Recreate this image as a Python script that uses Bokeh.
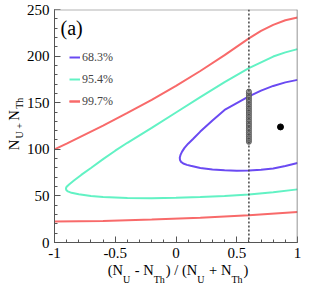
import math
from bokeh.plotting import figure
from bokeh.models import (Range1d, SingleIntervalTicker, FixedTicker, LinearAxis, Label, Span,
                          Legend, LegendItem)
from bokeh.embed import file_html
from bokeh.resources import INLINE

# ---------------- data ----------------
blue_x = [1.0, 0.9, 0.8, 0.7, 0.6, 0.5, 0.4, 0.3, 0.2, 0.14, 0.1, 0.07, 0.05, 0.037, 0.031,
          0.033, 0.042, 0.06, 0.09, 0.12, 0.2, 0.3, 0.4, 0.5, 0.6, 0.7, 0.8, 0.9, 1.0]
blue_y = [174.5, 171.8, 168, 163, 156.7, 149.5, 142.2, 131, 119, 111, 106, 101.5, 97.5, 94, 91,
          88.5, 86.5, 84.8, 83.3, 82.3, 80, 78.3, 77.4, 77.1, 77.3, 78, 79.5, 82, 85.2]

cyan_x = [1.0, 0.9, 0.8, 0.6, 0.4, 0.2, 0.0, -0.2, -0.4, -0.5, -0.6, -0.7, -0.78, -0.84,
          -0.88, -0.9, -0.906, -0.903, -0.89, -0.86, -0.8, -0.7, -0.6, -0.4, -0.2, 0.0,
          0.2, 0.4, 0.6, 0.8, 1.0]
cyan_y = [207.5, 204, 199.5, 187, 172, 156, 139.5, 123, 107, 98.5, 89.5, 80, 72.5, 66.5,
          62.3, 59.8, 58, 56.3, 54.8, 53.3, 51.8, 49.8, 48.8, 47.8, 47.5, 48, 48.8, 50,
          51.5, 54, 57]

red_up_x = [-1.0, -0.9, -0.8, -0.6, -0.4, -0.2, 0.0, 0.2, 0.4, 0.6, 0.7, 0.8, 0.9, 1.0]
red_up_y = [100, 106, 112.5, 125.5, 139, 153, 168, 184, 201, 219, 227, 233.5, 238.5, 241.5]

red_lo_x = [-1.0, -0.6, -0.2, 0.2, 0.6, 1.0]
red_lo_y = [22.5, 23.2, 24.6, 26.5, 29.2, 32.8]

meas_x = 0.6
meas_y = [108, 110, 112, 114, 116, 118, 120, 122, 124, 126, 128, 130, 132, 134,
          136, 138, 140, 142, 144, 146, 148, 150, 152, 154, 156, 158, 160, 162]

best_x = [0.86]
best_y = [124]

x_ticks = [-1, -0.5, 0, 0.5, 1]
x_tick_labels = ["-1", "-0.5", "0", "0.5", "1"]
legend_labels = ["68.3%", "95.4%", "99.7%"]
panel_tag = "(a)"

# ---------------- figure ----------------
FONT = "Liberation Serif"
FW, FH = 243, 233          # frame size in px
p = figure(width=315, height=287, x_range=Range1d(-1, 1), y_range=Range1d(0, 250),
           output_backend="svg", toolbar_location=None, title=None,
           min_border_left=54, min_border_right=18, min_border_top=9, min_border_bottom=45)
p.xgrid.visible = False
p.ygrid.visible = False
p.outline_line_color = None
p.background_fill_color = "white"
p.border_fill_color = "white"

p.xaxis.ticker = SingleIntervalTicker(interval=0.5, num_minor_ticks=5)
p.yaxis.ticker = SingleIntervalTicker(interval=50, num_minor_ticks=5)
p.xaxis.major_label_overrides = {v: s for v, s in zip(x_ticks, x_tick_labels)}
for ax in (p.xaxis, p.yaxis):
    ax.axis_line_color = "#555555"
    ax.axis_line_width = 1
    ax.major_tick_line_color = "#555555"
    ax.minor_tick_line_color = "#555555"
    ax.major_tick_in = 6
    ax.major_tick_out = 0
    ax.minor_tick_in = 3
    ax.minor_tick_out = 0
    ax.major_label_text_font = FONT
    ax.major_label_text_font_size = "15px"
    ax.major_label_text_color = "black"
    ax.major_label_standoff = 5
    ax.axis_label = None

# frame top / right
p.add_layout(Span(location=250, dimension="width", line_color="#b4b4b4", line_width=2))
p.add_layout(Span(location=1, dimension="height", line_color="#707070", line_width=1.5))

# curves
r_red_up = p.line(red_up_x, red_up_y, line_color="#f86a6a", line_width=2)
r_red_lo = p.line(red_lo_x, red_lo_y, line_color="#f86a6a", line_width=2)
r_cyan = p.line(cyan_x, cyan_y, line_color="#62f2c4", line_width=2)
r_blue = p.line(blue_x, blue_y, line_color="#6a4af2", line_width=2)

# measurement line and points
p.add_layout(Span(location=meas_x, dimension="height", line_color="#444444",
                  line_width=1.5, line_dash="2 2"))
p.scatter([meas_x] * len(meas_y), meas_y, size=5, marker="circle",
          fill_color="#9a9a9a", line_color="#505050", line_width=0.8)
p.scatter(best_x, best_y, size=6, marker="circle", fill_color="black", line_color="black")

legend = Legend(items=[LegendItem(label=legend_labels[0], renderers=[r_blue]),
                       LegendItem(label=legend_labels[1], renderers=[r_cyan]),
                       LegendItem(label=legend_labels[2], renderers=[r_red_up, r_red_lo])],
                location=(15, 133), glyph_width=11, glyph_height=16, label_height=16,
                spacing=6, padding=0, margin=0, label_standoff=2,
                border_line_color=None, background_fill_alpha=0,
                label_text_font=FONT, label_text_font_size="12px")
p.add_layout(legend)

# ---------------- axis titles with subscripts (stacked label-only axes) ----------------
W = {'(': 333, ')': 333, 'N': 722, 'U': 722, 'T': 611, 'h': 500, ' ': 250,
     '-': 333, '/': 278, '+': 564, 'a': 444}

def tw(s, size):
    return sum(W[c] for c in s) * size / 1000.0

MAIN, SUB = 14.5, 10

def layout_tokens(tokens):
    pos = []
    cur = 0.0
    for txt, sub, sp in tokens:
        cur += sp * MAIN / 1000.0
        size = SUB if sub else MAIN
        w = tw(txt, size)
        pos.append((txt, sub, cur + w / 2))
        cur += w + (1.0 if sub else 0.0)
    return pos, cur

def token_axis(centers, texts, size, standoff, place, orientation="horizontal"):
    ax = LinearAxis(ticker=FixedTicker(ticks=centers, minor_ticks=[]),
                    major_label_overrides=dict(zip(centers, texts)),
                    major_label_standoff=standoff, major_label_orientation=orientation,
                    major_tick_in=0, major_tick_out=0, minor_tick_in=0, minor_tick_out=0,
                    axis_line_color=None, major_tick_line_color=None, minor_tick_line_color=None,
                    major_label_text_font=FONT, major_label_text_font_size=f"{size}px",
                    major_label_text_color="black", axis_label=None)
    p.add_layout(ax, place)

# x-axis title: (N_U - N_Th) / (N_U + N_Th)
xtok = [("(N", 0, 0), ("U", 1, 0), ("-", 0, 250), ("N", 0, 250), ("Th", 1, 0), (")", 0, 0),
        ("/", 0, 250), ("(N", 0, 250), ("U", 1, 0), ("+", 0, 250), ("N", 0, 250),
        ("Th", 1, 0), (")", 0, 0)]
pos, total = layout_tokens(xtok)
x0 = FW / 2 - total / 2 + 2
to_dx = lambda px: -1 + 2.0 * px / FW
for sub, size, standoff in ((0, MAIN, 1), (1, SUB, -7)):
    sel = [(to_dx(x0 + c), t) for t, s, c in pos if s == sub]
    token_axis([c for c, _ in sel], [t for _, t in sel], size, standoff, "below")

# y-axis title: N_{U+}N_{Th}
ytok = [("N", 0, 0), ("U", 1, 100), ("+", 1, 100), ("N", 0, 100), ("Th", 1, 100)]
pos, total = layout_tokens(ytok)
y0 = 119 - total / 2
to_dy = lambda px: 250.0 * px / FH
for sub, size, standoff in ((1, SUB, -2), (0, MAIN, -11)):
    sel = [(to_dy(y0 + c), t) for t, s, c in pos if s == sub]
    token_axis([c for c, _ in sel], [t for _, t in sel], size, standoff, "left",
               orientation="vertical")

# panel tag
p.add_layout(Label(x=-1, y=250, x_offset=6, y_offset=-18.5, text=panel_tag,
                   text_font=FONT, text_font_size="20px", text_color="black",
                   text_baseline="alphabetic"))

open("out.html", "w").write(file_html(p, INLINE))
